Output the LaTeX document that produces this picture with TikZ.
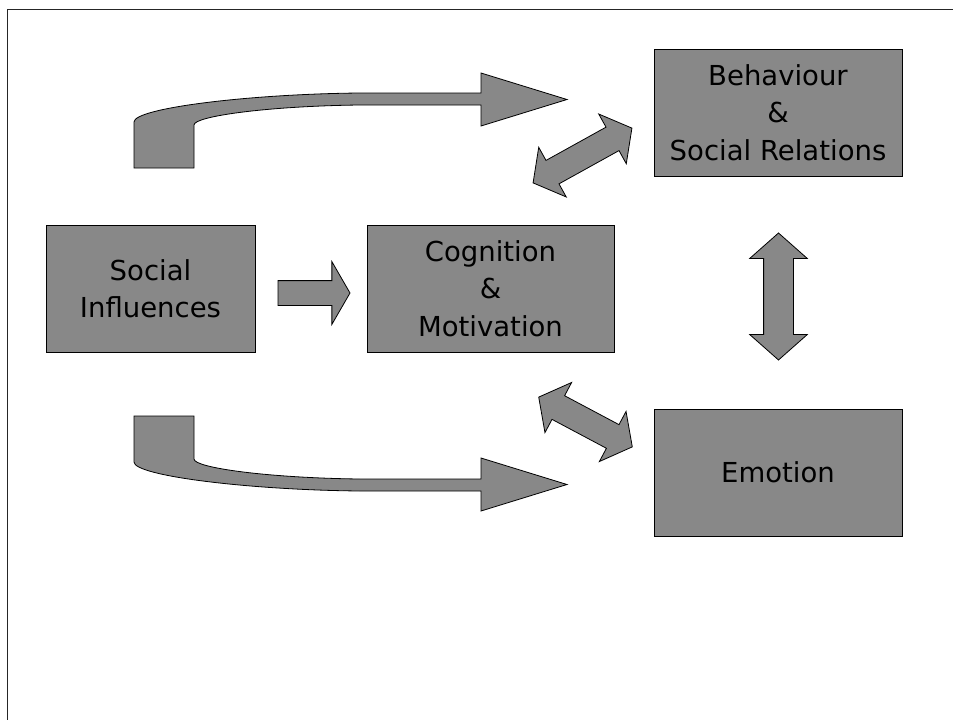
\documentclass[tikz,border=0pt]{standalone}
\usepackage{fontspec}
\setmainfont{DejaVu Sans}
\usetikzlibrary{shapes.arrows}
\definecolor{boxgray}{RGB}{136,136,136}

\begin{document}
\begin{tikzpicture}[x=1pt,y=-1pt,
  box/.style={draw=black, line width=0.9pt, fill=boxgray, rectangle, align=center,
    inner sep=0pt, font=\fontsize{27.5}{37.5}\selectfont},
  blockarrow/.style={draw=black, line width=0.8pt, fill=boxgray, inner xsep=0pt, outer sep=0pt},
  curvedarrow/.style={draw=black, line width=0.8pt, fill=boxgray, line join=miter},
]
\useasboundingbox (0,0) rectangle (953,720);

% frame lines along the top and left edges
\draw[line width=1.6pt, black!85] (953,9.5) -- (7.5,9.5) -- (7.5,720);

% boxes
\node[box, minimum width=209pt, minimum height=127pt] (si) at (150.5,288.5) {Social\\Influences};
\node[box, minimum width=247pt, minimum height=127pt] (cm) at (490.5,288.5) {Cognition\\\&\\Motivation};
\node[box, minimum width=248pt, minimum height=127pt] (br) at (778,112.5) {Behaviour\\\&\\Social Relations};
\node[box, minimum width=248pt, minimum height=127pt] (em) at (778,472.5) {Emotion};

% straight block arrow between the two left boxes (shaft half width = inner ysep)
\node[blockarrow, single arrow, inner ysep=12pt, minimum height=72pt,
  single arrow head extend=19pt, single arrow tip angle=120, anchor=tail] (a0) at (278,293) {};

% double-headed block arrows
\node[blockarrow, double arrow, rotate=29, inner ysep=13pt, minimum height=113pt,
  double arrow head extend=15pt, double arrow tip angle=104] (a1) at (582.5,155.5) {};
\node[blockarrow, double arrow, rotate=-28, inner ysep=13pt, minimum height=106pt,
  double arrow head extend=15pt, double arrow tip angle=104] (a2) at (585.5,422) {};
\node[blockarrow, double arrow, rotate=90, inner ysep=14.5pt, minimum height=127pt,
  double arrow head extend=14pt, double arrow tip angle=97] (a3) at (778.5,296.5) {};

% curved block arrow, top
\draw[curvedarrow] (134,168) -- (134,122)
  .. controls (134,108) and (250,94) .. (360,93) -- (481,93) -- (481,73)
  -- (567,99.5) -- (481,126) -- (481,105) -- (360,105)
  .. controls (270,106) and (194,116) .. (194,125) -- (194,168) -- cycle;

% curved block arrow, bottom
\draw[curvedarrow] (134,416) -- (134,462)
  .. controls (134,476) and (250,490) .. (360,491) -- (481,491) -- (481,511)
  -- (567,484.5) -- (481,458) -- (481,479) -- (360,479)
  .. controls (270,478) and (194,468) .. (194,459) -- (194,416) -- cycle;
\end{tikzpicture}
\end{document}
